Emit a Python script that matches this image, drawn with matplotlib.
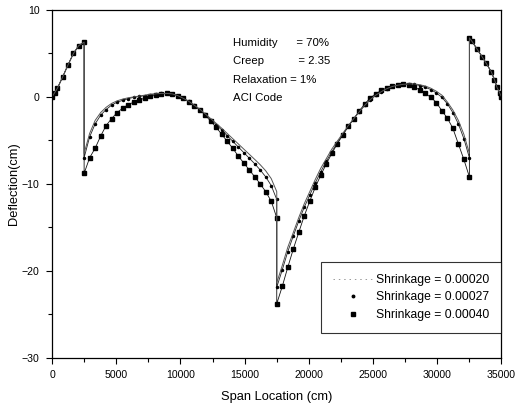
import matplotlib
matplotlib.use('Agg')
import matplotlib.pyplot as plt
from matplotlib.lines import Line2D
from matplotlib.ticker import MultipleLocator

plt.rcParams['font.family'] = ['Liberation Sans', 'DejaVu Sans']

# span positions (cm)
x_cant_left = [0, 210, 420, 830, 1250, 1670, 2080, 2500]
x_span1 = [2500, 2930, 3360, 3790, 4210, 4640, 5070, 5500, 5930, 6360, 6790, 7210,
           7640, 8070, 8500, 8930, 9360, 9790, 10210, 10640, 11070, 11500, 11930, 12360,
           12790, 13210, 13640, 14070, 14500, 14930, 15360, 15790, 16210, 16640, 17070, 17500]
x_span2 = [17500, 17930, 18360, 18790, 19210, 19640, 20070, 20500, 20930, 21360, 21790, 22210,
           22640, 23070, 23500, 23930, 24360, 24790, 25210, 25640, 26070, 26500, 26930, 27360,
           27790, 28210, 28640, 29070, 29500, 29930, 30360, 30790, 31210, 31640, 32070, 32500]
x_cant_right = [32500, 32700, 33100, 33500, 33800, 34200, 34450, 34650, 34850, 35000]

# cantilevers are the same for all three cases
y_cant_left = [0.0, 0.5, 1.0, 2.3, 3.7, 5.0, 5.9, 6.3]
y_cant_right = [6.8, 6.4, 5.5, 4.6, 3.9, 2.9, 2.0, 1.1, 0.5, 0.0]

# shrinkage = 0.00020
s1_span1 = [-6.5, -4.2, -2.7, -1.8, -1.2, -0.75, -0.45, -0.25, -0.1, 0.0, 0.1, 0.2,
            0.3, 0.35, 0.4, 0.4, 0.35, 0.15, -0.15, -0.5, -0.95, -1.4, -1.95, -2.5,
            -3.05, -3.6, -4.2, -4.8, -5.4, -6.0, -6.6, -7.2, -7.8, -8.5, -9.4, -10.9]
s1_span2 = [-21.4, -19.4, -17.3, -15.6, -13.9, -12.3, -10.9, -9.5, -8.2, -7.1, -6.0, -5.1,
            -4.2, -3.3, -2.5, -1.7, -0.95, -0.3, 0.2, 0.6, 0.95, 1.2, 1.35, 1.45,
            1.5, 1.5, 1.4, 1.25, 1.0, 0.65, 0.2, -0.6, -1.5, -2.7, -4.3, -6.5]

# shrinkage = 0.00027
s2_span1 = [-7.0, -4.6, -3.1, -2.1, -1.45, -0.95, -0.6, -0.4, -0.2, -0.05, 0.05, 0.15,
            0.25, 0.35, 0.4, 0.4, 0.35, 0.15, -0.15, -0.5, -0.95, -1.45, -2.0, -2.6,
            -3.2, -3.8, -4.45, -5.1, -5.75, -6.4, -7.05, -7.7, -8.4, -9.2, -10.2, -11.8]
s2_span2 = [-21.9, -19.9, -17.8, -16.0, -14.3, -12.7, -11.3, -9.9, -8.6, -7.4, -6.3, -5.3,
            -4.3, -3.4, -2.5, -1.7, -0.95, -0.3, 0.2, 0.6, 0.95, 1.2, 1.35, 1.45,
            1.5, 1.45, 1.3, 1.1, 0.85, 0.45, -0.05, -0.8, -1.8, -3.1, -4.8, -7.0]

# shrinkage = 0.00040
s3_span1 = [-8.8, -7.0, -5.9, -4.5, -3.3, -2.5, -1.8, -1.3, -0.9, -0.6, -0.35, -0.15,
            0.05, 0.2, 0.3, 0.4, 0.35, 0.15, -0.15, -0.55, -1.0, -1.5, -2.1, -2.8,
            -3.5, -4.3, -5.1, -5.9, -6.8, -7.6, -8.4, -9.2, -10.0, -10.9, -12.0, -13.9]
s3_span2 = [-23.8, -21.8, -19.6, -17.5, -15.6, -13.7, -12.0, -10.4, -9.0, -7.7, -6.5, -5.4,
            -4.4, -3.4, -2.5, -1.6, -0.8, -0.1, 0.35, 0.75, 1.05, 1.25, 1.4, 1.5,
            1.4, 1.15, 0.8, 0.4, -0.05, -0.65, -1.6, -2.45, -3.6, -5.4, -7.2, -9.2]

labels = ['Shrinkage = 0.00020', 'Shrinkage = 0.00027', 'Shrinkage = 0.00040']
notes = ['Humidity      = 70%', 'Creep           = 2.35', 'Relaxation = 1%', 'ACI Code']

x_all = x_cant_left + x_span1 + x_span2 + x_cant_right
y1 = y_cant_left + s1_span1 + s1_span2 + y_cant_right
y2 = y_cant_left + s2_span1 + s2_span2 + y_cant_right
y3 = y_cant_left + s3_span1 + s3_span2 + y_cant_right

fig = plt.figure(figsize=(5.17, 4.12), dpi=100)
ax = fig.add_axes([0.1006, 0.132, 0.8694, 0.8437])

ax.plot(x_all, y3, '-', color='#111111', lw=0.6, marker='s', ms=3.2, mfc='black', mec='black')
ax.plot(x_all, y2, '-', color='#222222', lw=0.6, marker='o', ms=1.5, mfc='black', mec='black')
ax.plot(x_all, y1, '-', color='#555555', lw=0.7)

ax.set_xlim(0, 35000)
ax.set_ylim(-30, 10)
ax.xaxis.set_major_locator(MultipleLocator(5000))
ax.xaxis.set_minor_locator(MultipleLocator(2500))
ax.yaxis.set_major_locator(MultipleLocator(10))
ax.yaxis.set_minor_locator(MultipleLocator(5))
ax.tick_params(which='both', direction='out', top=False, right=False, labelsize=7.6, width=0.8)
ax.tick_params(which='major', length=4, pad=5)
ax.tick_params(which='minor', length=3)
for sp in ax.spines.values():
    sp.set_linewidth(0.9)

ax.set_xlabel('Span Location (cm)', fontsize=9.3, labelpad=8)
ax.set_ylabel('Deflection(cm)', fontsize=9.3, labelpad=1)

for i, t in enumerate(notes):
    ax.text(0.402, 0.905 - i * 0.053, t, transform=ax.transAxes, fontsize=8.2, va='center')

# legend: faint dotted line, single dot, single square
handles = [Line2D([], [], ls=(0, (1.5, 4)), color='#999999', lw=0.7),
           Line2D([], [], ls='none', marker='o', ms=1.8, color='black'),
           Line2D([], [], ls='none', marker='s', ms=3.5, color='black')]
leg = ax.legend(handles, labels, loc='lower right', bbox_to_anchor=(1.0, 0.071),
                borderaxespad=0, fontsize=8.7, frameon=True, fancybox=False,
                handlelength=3.3, handletextpad=0.3, borderpad=1.0, labelspacing=0.45)
leg.get_frame().set_edgecolor('black')
leg.get_frame().set_linewidth(0.8)

fig.savefig('out.png', dpi=100)
